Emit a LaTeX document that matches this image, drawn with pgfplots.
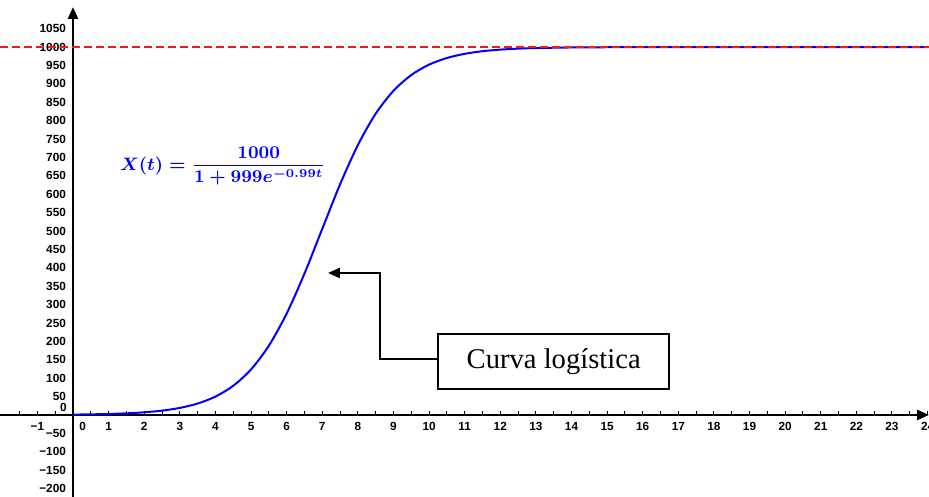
\documentclass[border=0pt]{standalone}
\usepackage{fontspec}
\setmainfont{Liberation Serif}
\setsansfont{Liberation Sans}
\usepackage{pgfplots}
\pgfplotsset{compat=1.18}
\usepackage{pgfplotstable}
\usetikzlibrary{arrows.meta}
\definecolor{curveblue}{RGB}{0,0,255}
\definecolor{dashred}{RGB}{235,30,30}
\newsavebox\formulabox
\newsavebox\curvabox
\pgfplotstableread{
t X
0 1.0
0.5 1.639
1 2.687
1.5 4.40
2 7.198
2.5 11.75
3 19.14
3.5 31.02
4 49.89
4.5 79.31
5 123.8
5.5 188.2
6 275.5
6.5 384.2
7 505.8
7.5 626.8
8 733.7
8.5 818.8
9 881.1
9.5 924.0
10 952.3
10.5 970.4
11 981.7
11.5 988.8
12 993.1
12.5 995.8
13 997.4
14 999.0
15 999.6
16 999.9
18 1000
20 1000
22 1000
24 1000
}\logistic
\pgfplotstableread{
t X
-2.05 1000
24.04 1000
}\asymptote
\begin{document}
\sbox\formulabox{\fontsize{9.2}{11}\selectfont\color{curveblue}\boldmath$\displaystyle X(t)=\frac{1000}{1+999e^{-0.99t}}$}%
\sbox\curvabox{\fontsize{14.3}{16}\selectfont Curva logística}%
\begin{tikzpicture}[>={Triangle[length=6pt,width=5pt]}]
\begin{axis}[
  scale only axis,
  width=464.5pt, height=245pt,
  xmin=-2.05, xmax=24.04, ymin=-223, ymax=1109,
  axis lines=middle,
  axis line style={line width=1.3pt, ->},
  xtick={-1,1,2,3,4,5,6,7,8,9,10,11,12,13,14,15,16,17,18,19,20,21,22,23,24},
  xticklabels={{−1},1,2,3,4,5,6,7,8,9,10,11,12,13,14,15,16,17,18,19,20,21,22,23,24},
  minor xtick={-1.5,-0.5,0.5,1.5,2.5,3.5,4.5,5.5,6.5,7.5,8.5,9.5,10.5,11.5,12.5,13.5,14.5,15.5,16.5,17.5,18.5,19.5,20.5,21.5,22.5,23.5},
  ytick={-200,-150,-100,-50,50,100,150,200,250,300,350,400,450,500,550,600,650,700,750,800,850,900,950,1000,1050},
  yticklabels={{−200},{−150},{−100},{−50},50,100,150,200,250,300,350,400,450,500,550,600,650,700,750,800,850,900,950,1000,1050},
  tick label style={font=\sffamily\bfseries\fontsize{5.9}{6}\selectfont, text=black},
  x tick style={black, line width=0.5pt},
  y tick style={draw=none},
  major tick length=2pt, minor tick length=2pt,
  tick align=inside,
  clip=false,
]
\addplot[curveblue, line width=1pt, smooth] table[x=t,y=X] {\logistic};
\addplot[dashred, line width=0.75pt, dash pattern=on 4pt off 2pt] table[x=t,y=X] {\asymptote};
\coordinate (O) at (axis cs:0,0);
\coordinate (F) at (axis cs:4.21,677);
\coordinate (A1) at (axis cs:10.25,152);
\coordinate (A2) at (axis cs:8.62,152);
\coordinate (A3) at (axis cs:8.62,386);
\coordinate (A4) at (axis cs:7.16,386);
\coordinate (B) at (axis cs:13.5,145.4);
\end{axis}
\node[anchor=north west, font=\sffamily\bfseries\fontsize{5.9}{6}\selectfont, inner sep=0pt, xshift=3pt, yshift=-3.5pt] at (O) {0};
\node[anchor=south east, font=\sffamily\bfseries\fontsize{5.9}{6}\selectfont, inner sep=0pt, xshift=-3pt, yshift=1.5pt] at (O) {0};
\node[inner sep=0pt] at (F) {\usebox\formulabox};
\draw[line width=1.3pt, ->] (A1) -- (A2) -- (A3) -- (A4);
\node[draw, line width=1pt, fill=white, minimum width=115.5pt, minimum height=27.5pt, inner sep=0pt] at (B) {\usebox\curvabox};
\pgfresetboundingbox
\path (current axis.south west) rectangle ([yshift=3.5pt]current axis.north east);
\end{tikzpicture}
\end{document}
